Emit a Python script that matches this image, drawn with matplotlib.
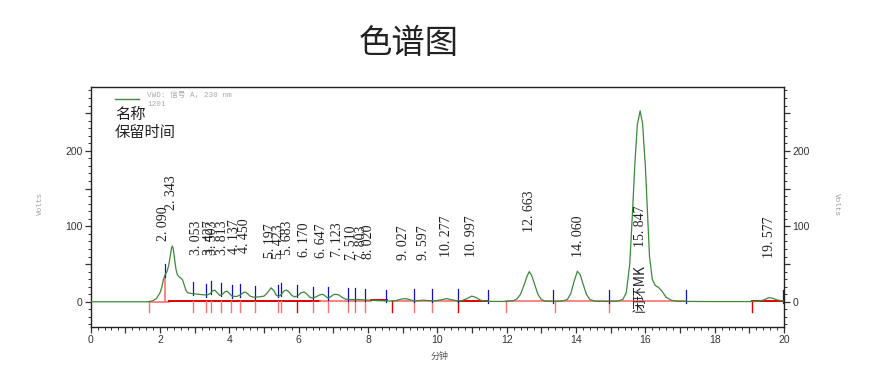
import matplotlib
matplotlib.use('Agg')
import matplotlib.pyplot as plt
import numpy as np
from matplotlib.ticker import MultipleLocator, FuncFormatter

# trace (min, Volts)
t = [0, 1.0, 1.6, 1.7, 1.8, 1.9, 2.0, 2.05, 2.1, 2.15, 2.2, 2.25, 2.3, 2.33, 2.355, 2.38,
     2.42, 2.46, 2.5, 2.55, 2.6, 2.65, 2.7, 2.75, 2.8, 2.9, 3.0, 3.2, 3.35, 3.45, 3.52,
     3.58, 3.65, 3.72, 3.8, 3.88, 3.94, 4.0, 4.08, 4.2, 4.3, 4.38, 4.45, 4.52, 4.6, 4.7,
     4.85, 5.0, 5.1, 5.2, 5.28, 5.35, 5.42, 5.5, 5.58, 5.65, 5.72, 5.8, 5.88, 5.98, 6.07,
     6.15, 6.23, 6.32, 6.4, 6.5, 6.6, 6.69, 6.77, 6.84, 6.92, 7.0, 7.08, 7.16, 7.25, 7.35,
     7.5, 7.7, 7.9, 8.1, 8.3, 8.6, 8.8, 8.95, 9.05, 9.15, 9.3, 9.45, 9.6, 9.75, 9.95, 10.1,
     10.27, 10.4, 10.55, 10.7, 10.85, 10.99, 11.1, 11.25, 11.4, 11.6, 12.0, 12.2, 12.3,
     12.4, 12.5, 12.58, 12.65, 12.72, 12.8, 12.9, 13.0, 13.1, 13.3, 13.6, 13.75, 13.85,
     13.95, 14.04, 14.12, 14.2, 14.3, 14.4, 14.55, 14.9, 15.2, 15.35, 15.45, 15.55, 15.62,
     15.7, 15.77, 15.85, 15.92, 16.0, 16.06, 16.12, 16.2, 16.28, 16.38, 16.48, 16.6, 16.75,
     16.9, 17.2, 18.0, 19.0, 19.3, 19.45, 19.55, 19.65, 19.8, 20.0]
sig = [0, 0, 0, 0.3, 1.5, 4.5, 12, 19, 30, 36, 40, 48, 62, 71, 74, 70,
       56, 43, 36, 33, 31.5, 29, 22, 15, 12, 11, 10.5, 9.5, 8.8, 11, 14.5,
       15.5, 12, 8.5, 10, 13.5, 14, 11, 7.5, 7, 8.5, 11.5, 13, 11, 7.5, 6,
       6.5, 7.5, 12, 18.5, 15, 9, 7, 10, 14.5, 15.5, 13, 8.5, 6.5, 8, 12,
       13, 10.5, 6, 5, 6.5, 9, 10, 7.5, 5, 6.5, 9.5, 10, 9, 6, 3.5,
       3, 3, 2.5, 2, 1.5, 1, 1.5, 3.5, 4.2, 3.5, 1.5, 1.5, 2.2, 1.5, 1.5, 2.5,
       4.2, 2.8, 1.5, 1.5, 4, 7.5, 6, 2, 0.8, 0.5, 0.5, 1.5, 4,
       10, 22, 33, 40, 35, 24, 10, 3, 1, 0.5, 0.8, 3, 11,
       28, 40.5, 36, 24, 10, 3, 0.8, 0.5, 0.8, 3, 12, 50, 110,
       185, 235, 253, 236, 180, 120, 60, 30, 22, 19, 14, 6, 2,
       0.8, 0.5, 0.3, 0.3, 0.8, 3, 5.5, 5, 2.5, 0.8]

# peak labels
label_rt = [2.090, 2.343, 3.053, 3.427, 3.503, 3.813, 4.137, 4.450, 5.197, 5.423, 5.683,
            6.170, 6.647, 7.123, 7.510, 7.803, 8.020, 9.027, 9.597, 10.277, 10.997,
            12.663, 14.060, 15.847, 19.577]
label_y = [81, 121, 62, 62, 62, 62, 63, 64, 58, 57, 62,
           60, 58, 60, 56, 56, 57, 55, 55, 60, 60,
           92, 59, 73, 58]
name_rt = 15.847
name_text = '闭环MK'

# integration marks
blue_t = [2.14, 2.96, 3.34, 3.48, 3.77, 4.08, 4.30, 4.75, 5.39, 5.50, 5.96, 6.41, 6.84,
          7.42, 7.63, 7.90, 8.53, 9.34, 9.84, 10.61, 11.45, 13.33, 14.95, 17.18, 19.98]
red_t = [1.69, 2.96, 3.34, 3.46, 3.77, 4.06, 4.30, 4.75, 5.39, 5.50, 5.96, 6.41, 6.84,
         7.42, 7.63, 7.90, 8.70, 9.34, 9.84, 10.61, 11.97, 13.40, 14.95, 19.09]
red_dark = [0, 0, 0, 0, 0, 0, 0, 0, 0, 0, 1, 0, 0,
            0, 0, 0, 1, 0, 0, 1, 0, 0, 0, 1]
base_start = [1.69, 2.25, 6.62, 8.1, 8.7, 10.61, 11.97, 19.09]
base_end = [2.25, 6.62, 8.1, 8.55, 10.61, 11.45, 17.18, 20.0]
base_lvl = [0, 1.2, 0.8, 2.2, 1.0, 1.0, 1.0, 1.0]
base_dark = [0, 1, 0, 1, 0, 1, 0, 1]

green = '#3a8a3a'
red_l = '#ff7070'
red_d = '#e00000'
blue = '#1010c8'

fig = plt.figure(figsize=(8.74, 3.76), dpi=100)
ax = fig.add_axes([90.7 / 874, 1 - 326.7 / 376, (784 - 90.7) / 874, (326.7 - 86.7) / 376])

for s, e, lv, dk in zip(base_start, base_end, base_lvl, base_dark):
    ax.plot([s, e], [lv, lv], color=red_d if dk else red_l, lw=1.4 if dk else 1.2, zorder=2)
for x, dk in zip(red_t, red_dark):
    ax.plot([x, x], [1, -13], color=red_d if dk else red_l, lw=1.0, zorder=2)
v214 = np.interp(2.14, t, sig)
ax.plot([2.14, 2.14], [0, v214], color=red_l, lw=1.2, zorder=2)

for x in blue_t:
    v = np.interp(x, t, sig)
    ax.plot([x, x], [v - 2, v + 15], color=blue, lw=0.9, zorder=3)

ax.plot(t, sig, color=green, lw=0.9, zorder=4)

for rt, y in zip(label_rt, label_y):
    s = ('%.3f' % rt).replace('.', '. ')
    ax.text(rt, y, s, rotation=90, ha='center', va='bottom', fontsize=10,
            family='Liberation Serif', color='#222222', zorder=5)
ax.text(name_rt, -14, name_text, rotation=90, ha='center', va='bottom', fontsize=10,
        family=['Noto Sans CJK SC', 'DejaVu Sans'], color='#222222', zorder=5)

ax.set_xlim(0, 20)
ax.set_ylim(-33, 285)
ax.xaxis.set_major_locator(MultipleLocator(1))
ax.xaxis.set_minor_locator(MultipleLocator(0.2))
ax.xaxis.set_major_formatter(FuncFormatter(lambda v, p: '%d' % v if round(v) % 2 == 0 else ''))
ax.yaxis.set_major_locator(MultipleLocator(50))
ax.yaxis.set_minor_locator(MultipleLocator(10))
ax.yaxis.set_major_formatter(FuncFormatter(lambda v, p: '%d' % v if round(v) % 100 == 0 else ''))
ax.tick_params(which='both', direction='out', colors='#333333', labelsize=7.5,
               left=True, right=True, labelright=True, bottom=True, top=False)
ax.tick_params(which='major', length=4, width=0.9, pad=2)
ax.tick_params(which='minor', length=2, width=0.7)
for lbl in ax.get_xticklabels() + ax.get_yticklabels():
    lbl.set_family('Liberation Sans')
for sp in ax.spines.values():
    sp.set_linewidth(1.0)
    sp.set_color('#222222')

fig.text(409 / 874, 1 - 43 / 376, '色谱图', ha='center', va='center', fontsize=24,
         family=['Noto Sans CJK SC', 'DejaVu Sans'], color='#222222')

# legend block
fig.add_artist(plt.Line2D([115 / 874, 139 / 874], [1 - 99 / 376, 1 - 99 / 376],
                          color=green, lw=1.0))
fig.text(147 / 874, 1 - 95 / 376, 'VWD: 信号 A, 230 nm', ha='left', va='center',
         fontsize=5.5, family=['Liberation Mono', 'Noto Sans CJK SC'], color='#aaaaaa')
fig.text(147 / 874, 1 - 104 / 376, '1201', ha='left', va='center', fontsize=5.5,
         family='Liberation Mono', color='#aaaaaa')
fig.text(115 / 874, 1 - 115 / 376, '名称', ha='left', va='center', fontsize=11,
         family=['Noto Sans CJK SC', 'DejaVu Sans'], color='#222222')
fig.text(115 / 874, 1 - 132 / 376, '保留时间', ha='left', va='center', fontsize=11,
         family=['Noto Sans CJK SC', 'DejaVu Sans'], color='#222222')

fig.text(40 / 874, 1 - 203 / 376, 'Volts', rotation=90, ha='center', va='center',
         fontsize=5.5, family='Liberation Mono', color='#999999')
fig.text(836 / 874, 1 - 205 / 376, 'Volts', rotation=270, ha='center', va='center',
         fontsize=5.5, family='Liberation Mono', color='#999999')
fig.text(440 / 874, 1 - 356 / 376, '分钟', ha='center', va='center', fontsize=6.5,
         family=['Noto Sans CJK SC', 'DejaVu Sans'], color='#555555')

fig.savefig('out.png', dpi=100)
